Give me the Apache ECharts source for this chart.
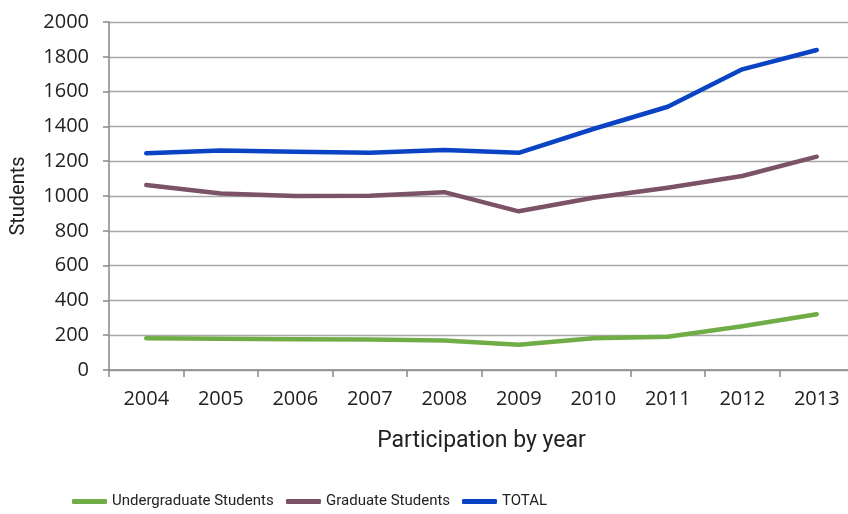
<!DOCTYPE html>
<html>
<head>
<meta charset="utf-8">
<script src="https://cdn.jsdelivr.net/npm/echarts@6/dist/echarts.min.js"></script>
<style>html,body{margin:0;padding:0;background:#fff;}#c{width:848px;height:514px;}</style>
</head>
<body>
<div id="c"></div>
<script>
const years = ['2004','2005','2006','2007','2008','2009','2010','2011','2012','2013'];
const undergraduate = [182, 180, 177, 175, 170, 145, 182, 191, 252, 320];
const graduate = [1063, 1015, 1000, 1002, 1022, 912, 990, 1048, 1115, 1226];
const total = [1245, 1262, 1255, 1248, 1265, 1248, 1385, 1513, 1728, 1839];
const seriesNames = ['Undergraduate Students', 'Graduate Students', 'TOTAL'];
const colors = ['#70ad47', '#7c5366', '#0a43c4'];

const chart = echarts.init(document.getElementById('c'));
const legendFont = {fontFamily: "Roboto, sans-serif", fontSize: 15, color: '#222'};
const legendLefts = [72, 286, 462];
chart.setOption({
  animation: false,
  color: colors,
  grid: {left: 109, top: 22, width: 745, height: 348, containLabel: false, outerBoundsMode: 'none'},
  legend: seriesNames.map((n, i) => ({
    data: [n], left: legendLefts[i], top: 494, icon: 'roundRect',
    itemWidth: 35, itemHeight: 5, itemGap: 0, textStyle: legendFont, padding: 0
  })),
  xAxis: {
    type: 'category', data: years, boundaryGap: true,
    name: 'Participation by year', nameLocation: 'middle', nameGap: 60,
    nameTextStyle: {fontFamily: "Roboto, sans-serif", fontSize: 23, color: '#222'},
    axisLine: {lineStyle: {color: '#898989', width: 1.5}},
    axisTick: {show: true, length: 7, lineStyle: {color: '#898989', width: 1.5}},
    axisLabel: {fontFamily: "'Open Sans', sans-serif", fontSize: 20, color: '#222', margin: 19}
  },
  yAxis: {
    type: 'value', min: 0, max: 2000, interval: 200,
    name: 'Students', nameLocation: 'middle', nameGap: 80, nameRotate: 90,
    nameTextStyle: {fontFamily: "Roboto, sans-serif", fontSize: 20, color: '#222'},
    axisLine: {show: true, lineStyle: {color: '#898989', width: 1.5}},
    axisTick: {show: true, length: 6, lineStyle: {color: '#898989', width: 1.5}},
    splitLine: {lineStyle: {color: '#a6a6a6', width: 1.3}},
    axisLabel: {fontFamily: "'Open Sans', sans-serif", fontSize: 20, color: '#222', margin: 20, formatter: v => String(v)}
  },
  series: [
    {name: seriesNames[0], type: 'line', data: undergraduate, symbol: 'none', lineStyle: {width: 4.5, cap: 'round', join: 'round'}},
    {name: seriesNames[1], type: 'line', data: graduate, symbol: 'none', lineStyle: {width: 4.5, cap: 'round', join: 'round'}},
    {name: seriesNames[2], type: 'line', data: total, symbol: 'none', lineStyle: {width: 4.5, cap: 'round', join: 'round'}}
  ]
});
</script>
</body>
</html>
